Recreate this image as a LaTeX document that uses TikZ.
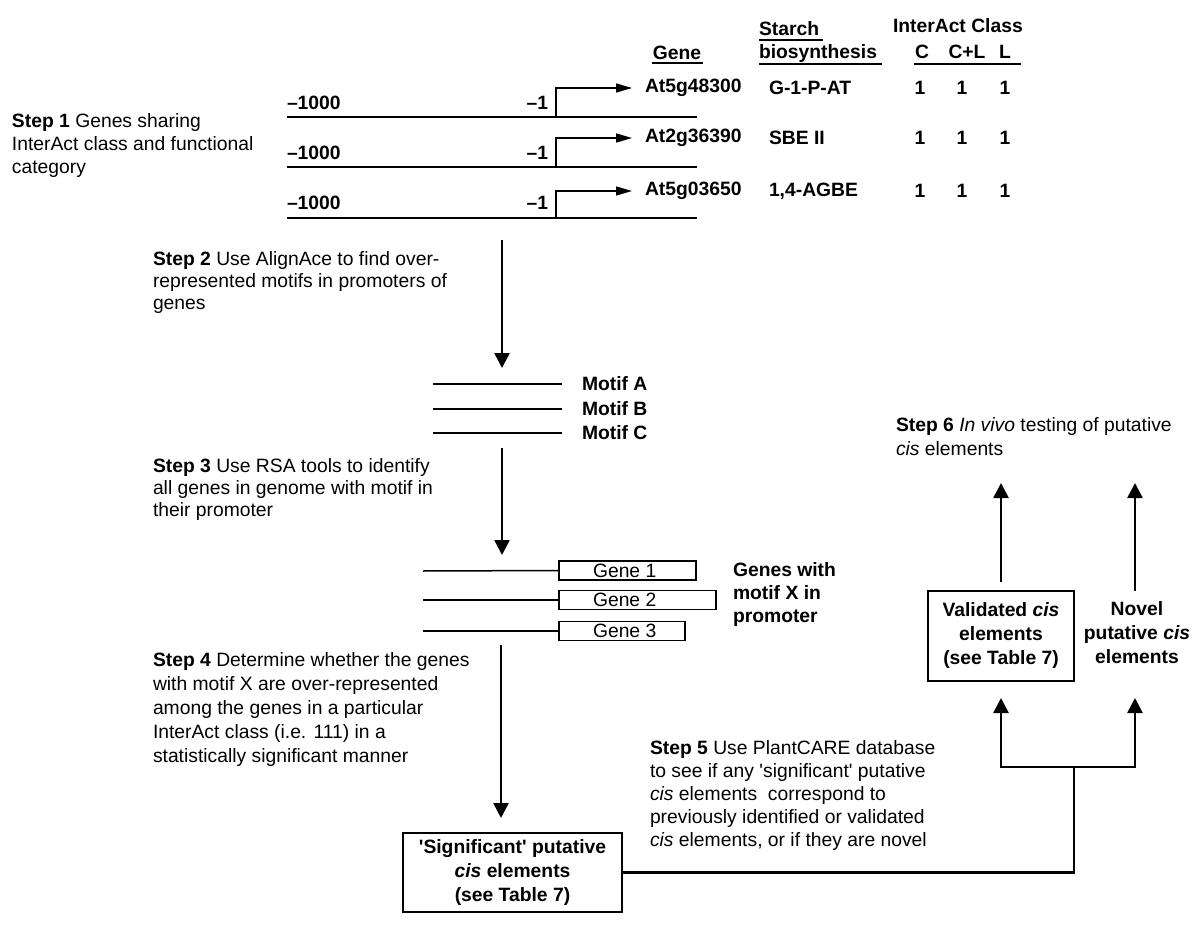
\documentclass[tikz,border=0pt]{standalone}
\usepackage{fontspec}
\setmainfont{Liberation Sans}[Ligatures=TeXOff]
\usetikzlibrary{arrows.meta}
\begin{document}
\begin{tikzpicture}[x=1pt,y=-1pt,
  every node/.style={inner sep=0pt,outer sep=0pt},
  tx/.style={anchor=north west,align=left,font=\fontsize{19.3}{#1}\selectfont},
  tx/.default=23,
  bt/.style={font=\fontsize{19.3}{23}\selectfont\bfseries},
  rt/.style={font=\fontsize{19.3}{23}\selectfont},
  bc/.style={align=center,font=\fontsize{19.3}{24}\selectfont\bfseries},
  ul/.style={line width=1.4pt},
  rowline/.style={line width=2pt},
  promo/.style={line width=1.5pt,-{Triangle[length=16pt,width=9pt]}},
  thinline/.style={line width=1.5pt},
  big/.style={line width=2.6pt,-{Triangle[length=15pt,width=15pt]}},
  conn/.style={line width=2.6pt},
  boxed/.style={draw,line width=1.6pt},
]
\fill[white] (0,0) rectangle (1200,931);
\useasboundingbox (0,0) rectangle (1200,931);

% ---------- header ----------
\node[bt,anchor=base] (hgene) at (677,60) {Gene};
\draw[ul] ([xshift=-1pt,yshift=-3pt]hgene.base west) -- ([xshift=2pt,yshift=-3pt]hgene.base east);
\node[bt,anchor=base west] (hstarch) at (759,36) {Starch};
\draw[ul] ([yshift=-4pt]hstarch.base west) -- ([xshift=4pt,yshift=-4pt]hstarch.base east);
\node[bt,anchor=base west] (hbio) at (759,59) {biosynthesis};
\draw[ul] ([yshift=-5pt]hbio.base west) -- ([xshift=5pt,yshift=-5pt]hbio.base east);
\node[bt,anchor=base west] (hclass) at (893,33) {InterAct Class};
\node[bt,anchor=base] (hc) at (922,59) {C};
\node[bt,anchor=base] (hcl) at (967,59) {C+L};
\node[bt,anchor=base] (hl) at (1005,59) {L};
\draw[ul] ([xshift=-1pt,yshift=-5pt]hc.base west) -- ([xshift=10pt,yshift=-5pt]hl.base east);

% ---------- rows ----------
\node[bt,anchor=west] (g1) at (645,88) {At5g48300};
\node[bt,anchor=west] (f1) at (769,88) {G-1-P-AT};
\node[bt] (c1a) at (920,88) {1};
\node[bt] (c1b) at (962,88) {1};
\node[bt] (c1c) at (1005,88) {1};
\node[bt,anchor=west] (m1) at (287,103) {\textendash1000};
\node[bt,anchor=east] (e1) at (548,103) {\textendash1};
\coordinate (r1a) at (287,117); \coordinate (r1b) at (697,117); \coordinate (p1) at (556,117);
\draw[rowline] (r1a) -- (r1b);
\draw[promo,shorten >=13pt] (p1) |- (g1.west);

\node[bt,anchor=west] (g2) at (645,138) {At2g36390};
\node[bt,anchor=west] (f2) at (769,138) {SBE II};
\node[bt] (c2a) at (920,138) {1};
\node[bt] (c2b) at (962,138) {1};
\node[bt] (c2c) at (1005,138) {1};
\node[bt,anchor=west] (m2) at (287,153) {\textendash1000};
\node[bt,anchor=east] (e2) at (548,153) {\textendash1};
\coordinate (r2a) at (287,167); \coordinate (r2b) at (697,167); \coordinate (p2) at (556,167);
\draw[rowline] (r2a) -- (r2b);
\draw[promo,shorten >=13pt] (p2) |- (g2.west);

\node[bt,anchor=west] (g3) at (645,191) {At5g03650};
\node[bt,anchor=west] (f3) at (769,191) {1,4-AGBE};
\node[bt] (c3a) at (920,191) {1};
\node[bt] (c3b) at (962,191) {1};
\node[bt] (c3c) at (1005,191) {1};
\node[bt,anchor=west] (m3) at (287,203) {\textendash1000};
\node[bt,anchor=east] (e3) at (548,203) {\textendash1};
\coordinate (r3a) at (287,218); \coordinate (r3b) at (697,218); \coordinate (p3) at (556,218);
\draw[rowline] (r3a) -- (r3b);
\draw[promo,shorten >=13pt] (p3) |- (g3.west);

% ---------- step 1 ----------
\node[tx=23] (s1) at (12,114) {\textbf{Step 1} Genes sharing\\InterAct class and functional\\category};

% ---------- step 2 ----------
\coordinate (a1s) at (502,240); \coordinate (a1e) at (502,368);
\draw[big] (a1s) -- (a1e);
\node[tx=22] (s2) at (153,252) {\textbf{Step 2} Use AlignAce to find over-\\represented motifs in promoters of\\genes};

% ---------- motifs ----------
\node[bt,anchor=west] (motA) at (582,384) {Motif A};
\node[bt,anchor=west] (motB) at (582,409) {Motif B};
\node[bt,anchor=west] (motC) at (582,433) {Motif C};
\coordinate (ma) at (433,384); \coordinate (mb) at (433,409); \coordinate (mc) at (433,433);
\draw[thinline,shorten >=20pt] (ma) -- (motA.west);
\draw[thinline,shorten >=20pt] (mb) -- (motB.west);
\draw[thinline,shorten >=20pt] (mc) -- (motC.west);

% ---------- step 3 ----------
\coordinate (a2s) at (502,448); \coordinate (a2e) at (502,555);
\draw[big] (a2s) -- (a2e);
\node[tx=22] (s3) at (153,459) {\textbf{Step 3} Use RSA tools to identify\\all genes in genome with motif in\\their promoter};

% ---------- gene boxes ----------
\node[boxed,minimum width=137pt,minimum height=19pt,anchor=west] (gb1) at (559,570.5) {};
\node[boxed,minimum width=157pt,minimum height=19pt,anchor=west] (gb2) at (559,600) {};
\node[boxed,minimum width=126pt,minimum height=19pt,anchor=west] (gb3) at (559,631) {};
\node[rt,anchor=west] (gt1) at (593,571) {Gene 1};
\node[rt,anchor=west] (gt2) at (593,600) {Gene 2};
\node[rt,anchor=west] (gt3) at (593,631) {Gene 3};
\coordinate (gl1) at (423,571); \coordinate (gl2) at (423,600); \coordinate (gl3) at (423,631);
\draw[thinline] (gl1) -- (gb1.west);
\draw[thinline] (gl2) -- (gb2.west);
\draw[line width=2.2pt] (gl3) -- (gb3.west);
\node[tx=23,font=\fontsize{19.3}{23}\selectfont\bfseries] (gw) at (733,563) {Genes with\\motif X in\\promoter};

% ---------- step 4 ----------
\coordinate (a3s) at (501,645);
\node[boxed,minimum width=219pt,minimum height=79pt,bc] (sig) at (512.5,872.5) {'Significant' putative\\\textit{cis} elements\\(see Table 7)};
\draw[big,shorten >=15pt] (a3s) -- (a3s |- sig.north);
\node[tx=24] (s4) at (153,653) {\textbf{Step 4} Determine whether the genes\\with motif X are over-represented\\among the genes in a particular\\InterAct class (i.e. 111) in a\\statistically significant manner};

% ---------- step 5 ----------
\node[tx=23] (s5) at (650,741) {\textbf{Step 5} Use PlantCARE database\\to see if any 'significant' putative\\\textit{cis} elements~ correspond to\\previously identified or validated\\\textit{cis} elements, or if they are novel};
\node[boxed,minimum width=146pt,minimum height=90pt,bc] (val) at (1001,636) {Validated \textit{cis}\\elements\\(see Table 7)};
\node[bc] (nov) at (1137,633) {Novel\\putative \textit{cis}\\elements};
\coordinate (j) at (1074,767);
\coordinate (nb) at (1135,698);
\draw[conn] (sig.east) -| (j);
\draw[big,shorten >=17pt] (j) -| (val.south);
\draw[big] (j) -| (nb);

% ---------- step 6 ----------
\coordinate (t1) at (999,483);
\coordinate (t2) at (1135,483);
\coordinate (n2) at (1135,591);
\draw[big,shorten <=9pt] (val.north) -- (val.north |- t1);
\draw[big] (n2) -- (t2);
\node[tx=24] (s6) at (896,418) {\textbf{Step 6} \textit{In vivo} testing of putative\\\textit{cis} elements};
\end{tikzpicture}
\end{document}
